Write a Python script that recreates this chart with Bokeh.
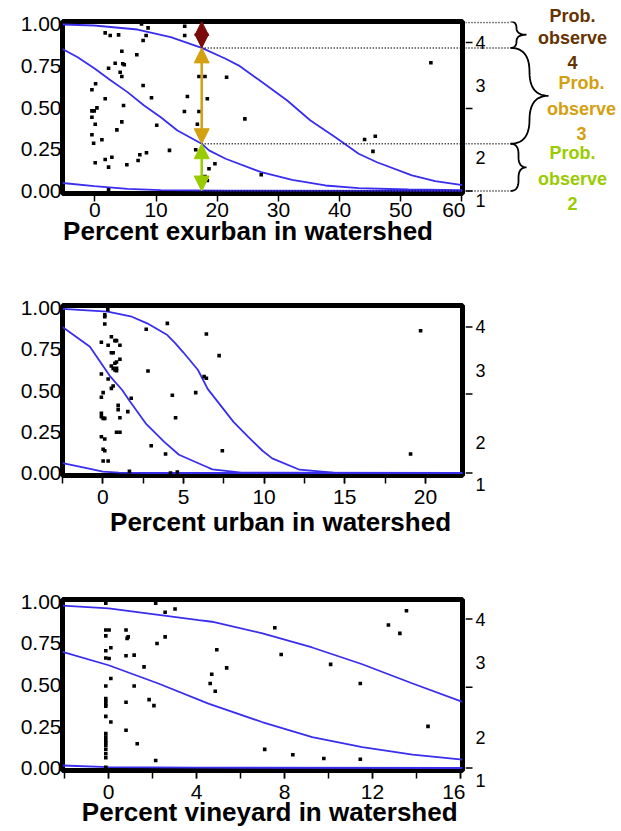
import numpy as np
from bokeh.plotting import figure
from bokeh.layouts import column, row
from bokeh.models import (Range1d, LinearAxis, FixedTicker, SingleIntervalTicker,
                          NumeralTickFormatter, Arrow, NormalHead)
from bokeh.core.properties import value
from bokeh.embed import file_html
from bokeh.resources import INLINE

FONT = "Liberation Sans"
CURVE = "#3A2EEE"
MAROON = "#7B0A0A"
GOLD = "#D4A010"
GREEN = "#99CC00"
BROWN = "#663300"

Y_LO, Y_HI = -0.015, 1.015
left_ticks = [0.0, 0.25, 0.5, 0.75, 1.0]
right_labels = ["4", "3", "2"]
NB = "\u00a0"

# ---------------- Panel 1: percent exurban ----------------
ex_x = [7.62, 8.69, 14.68, 1.68, 2.50, 3.87, 8.37, 7.88, 14.68, 4.40, 6.85, 3.31, 4.55, 4.80,
        2.23, 4.13, 4.40, 17.01, 17.99, 21.53, 0.11, 7.88, -0.49, 9.25, 15.12, 1.68, 18.38,
        4.68, 0.33, -0.49, -0.11, -0.49, 14.63, 17.01, 0.05, 4.40, 10.11, 16.75, 3.59, -0.49,
        1.14, -0.21, 12.19, 16.48, 8.43, 7.34, 2.77, 1.68, 7.06, 0.05, 19.62, 5.22, 2.23,
        18.65, 17.99, 18.38, 2.23, 24.52, 27.19, 44.09, 45.84, 45.46, 54.93]
ex_y = [1.00, 0.977, 0.987, 0.947, 0.931, 0.935, 0.931, 0.901, 0.931, 0.837, 0.816, 0.765,
        0.762, 0.756, 0.735, 0.711, 0.686, 0.686, 0.686, 0.681, 0.642, 0.632, 0.606, 0.558,
        0.566, 0.552, 0.552, 0.512, 0.498, 0.480, 0.480, 0.442, 0.476, 0.476, 0.400, 0.414,
        0.394, 0.400, 0.366, 0.337, 0.307, 0.286, 0.243, 0.247, 0.229, 0.217, 0.202, 0.189,
        0.183, 0.169, 0.163, 0.157, 0.143, 0.133, 0.087, 0.063, 0.007, 0.432, 0.097, 0.308,
        0.328, 0.237, 0.768]
ex_hi_x = [-5.3, -0.11, 6.97, 12.40, 17.46, 21.37, 23.54, 27.36, 31.44, 35.24, 39.31, 43.12,
           46.12, 51.83, 55.63, 60.1]
ex_hi_y = [0.997, 0.991, 0.967, 0.921, 0.857, 0.792, 0.751, 0.651, 0.542, 0.422, 0.322, 0.223,
           0.172, 0.093, 0.059, 0.035]
ex_mid_x = [-5.3, -2.82, -0.11, 2.61, 5.33, 8.04, 10.77, 13.49, 17.46, 18.65, 21.37, 27.19,
            32.25, 37.68, 43.12, 51.27, 60.1]
ex_mid_y = [0.85, 0.801, 0.735, 0.662, 0.592, 0.512, 0.442, 0.362, 0.283, 0.243, 0.193, 0.113,
            0.067, 0.033, 0.017, 0.009, 0.005]
ex_lo_x = [-5.3, -0.11, 5.33, 10.77, 21.37, 60.1]
ex_lo_y = [0.048, 0.029, 0.013, 0.005, 0.002, 0.0005]
ex_arrow_x = 17.46
ex_right_labels = [0.889, 0.632, 0.201]
ex_right_ticks = [0.889, 0.494, 0.0]
ex_one_y = -0.057
prob_head = "Prob."
prob_texts = ["observe\n4", "Prob.\nobserve\n3", "Prob.\nobserve\n2"]
prob_text_y = [0.841, 0.492, 0.073]

# ---------------- Panel 2: percent urban ----------------
ur_x = [0.31, 0.12, 0.12, 0.12, 4.0, 2.69, 6.42, -0.09, 0.53, 0.75, 0.85, 0.33, 1.06, 0.53,
        0.64, 1.06, 0.85, 0.75, 0.53, 0.64, 0.85, 0.75, 0.85, -0.09, 2.80, 0.33, 6.28, 6.42,
        0.64, 0.53, 0.02, -0.09, 1.76, 5.76, 4.31, 0.95, 1.55, 0.95, -0.09, -0.09, 0.02, 0.12,
        1.06, 4.51, 0.85, 1.06, -0.09, 0.12, 3.0, 0.02, 0.12, 3.89, 0.02, 0.33, 1.65, 4.2,
        4.62, 7.21, 7.41, 19.7, 19.08]
ur_y = [0.99, 0.958, 0.947, 0.903, 0.907, 0.871, 0.842, 0.792, 0.826, 0.802, 0.802, 0.774,
        0.774, 0.729, 0.729, 0.689, 0.673, 0.665, 0.648, 0.634, 0.634, 0.624, 0.62, 0.60,
        0.618, 0.570, 0.584, 0.574, 0.527, 0.513, 0.487, 0.459, 0.453, 0.487, 0.471, 0.410,
        0.372, 0.384, 0.362, 0.341, 0.331, 0.331, 0.335, 0.335, 0.247, 0.247, 0.22, 0.206,
        0.165, 0.144, 0.135, 0.115, 0.073, 0.073, 0.010, 0.0, 0.006, 0.711, 0.135, 0.862,
        0.115]
ur_hi_x = [-2.5, 0.3, 1.8, 2.75, 4.0, 4.5, 5.0, 5.9, 6.5, 8.1, 9.0, 9.9, 10.5, 12.2, 14.3, 22.3]
ur_hi_y = [0.995, 0.978, 0.947, 0.907, 0.836, 0.786, 0.73, 0.624, 0.51, 0.31, 0.22, 0.135,
           0.089, 0.02, 0.002, 0.0]
ur_mid_x = [-2.5, -0.8, 0.47, 1.2, 1.62, 2.7, 3.79, 4.72, 6.42, 6.79, 8.6, 22.3]
ur_mid_y = [0.885, 0.765, 0.584, 0.503, 0.442, 0.296, 0.19, 0.111, 0.038, 0.022, 0.003, 0.0]
ur_lo_x = [-2.5, -1.0, 0.0, 1.0, 3.0, 22.3]
ur_lo_y = [0.06, 0.03, 0.008, 0.002, 0.0, 0.0]
ur_right_labels = [0.885, 0.624, 0.182]
ur_right_ticks = [0.885, 0.479, 0.0]
ur_one_y = -0.0725

# ---------------- Panel 3: percent vineyard ----------------
vi_x = [-0.13, 2.14, 2.57, 3.02, -0.13, 0.02, 0.79, -0.13, 0.89, 0.84, 2.57, 2.20, 0.10,
        -0.13, 0.79, 1.16, -0.13, 0.02, 1.61, 0.10, -0.13, 1.16, 1.84, 2.06, -0.13, -0.13,
        -0.13, -0.13, 0.79, -0.13, 0.10, 0.79, -0.13, -0.13, -0.13, -0.13, -0.13, -0.13,
        -0.13, -0.13, 1.30, 2.14, -0.13, 7.56, 7.85, 4.92, 5.37, 4.69, 4.62, 4.85, 10.1,
        11.45, 12.73, 13.25, 13.55, 14.53, 7.1, 8.38, 9.79, 11.45]
vi_y = [0.992, 0.992, 0.938, 0.958, 0.831, 0.831, 0.831, 0.796, 0.790, 0.781, 0.790, 0.750,
        0.724, 0.706, 0.676, 0.680, 0.663, 0.66, 0.609, 0.539, 0.494, 0.494, 0.412, 0.376,
        0.418, 0.402, 0.385, 0.372, 0.396, 0.311, 0.277, 0.227, 0.207, 0.186, 0.166, 0.152,
        0.136, 0.112, 0.086, 0.062, 0.146, 0.045, 0.005, 0.845, 0.684, 0.712, 0.603, 0.565,
        0.509, 0.462, 0.624, 0.509, 0.861, 0.811, 0.947, 0.251, 0.112, 0.080, 0.057, 0.053]
vi_hi_x = [-2.1, 0.0, 4.1, 4.7, 7.0, 9.26, 11.54, 13.83, 16.1]
vi_hi_y = [0.978, 0.962, 0.891, 0.881, 0.811, 0.726, 0.625, 0.509, 0.398]
vi_mid_x = [-2.1, 0.0, 2.26, 4.54, 6.98, 9.26, 11.54, 13.83, 16.1]
vi_mid_y = [0.70, 0.619, 0.509, 0.388, 0.277, 0.186, 0.126, 0.080, 0.051]
vi_lo_x = [-2.1, 0.0, 4.0, 16.1]
vi_lo_y = [0.015, 0.005, 0.002, 0.0]
vi_right_labels = [0.897, 0.637, 0.184]
vi_right_ticks = [0.897, 0.486, 0.0]
vi_one_y = -0.078

BL, FW = 62, 400          # left border and frame width shared by the three panels
SW = 152                  # width of the right-hand strip


def panel(xr, fh, bt, bb, interval, n_minor, minor_out, xlabel, lab_standoff, title_standoff):
    p = figure(x_range=Range1d(*xr), y_range=Range1d(Y_LO, Y_HI),
               frame_width=FW, frame_height=fh,
               min_border_left=BL, min_border_right=3,
               min_border_top=bt, min_border_bottom=bb,
               output_backend="svg", toolbar_location=None,
               background_fill_color="white", border_fill_color="white")
    p.outline_line_color = "black"
    p.outline_line_width = 5
    p.outline_line_alpha = 1.0
    p.grid.grid_line_color = None

    xa = p.xaxis[0]
    xa.ticker = SingleIntervalTicker(interval=interval, num_minor_ticks=n_minor)
    xa.axis_line_color = None
    xa.major_tick_in = 0
    xa.major_tick_out = 8
    xa.minor_tick_in = 0
    xa.minor_tick_out = minor_out
    xa.major_tick_line_width = 1.5
    xa.minor_tick_line_width = 1.5
    xa.major_label_text_font = FONT
    xa.major_label_text_font_size = "21px"
    xa.major_label_text_color = "black"
    xa.major_label_standoff = lab_standoff
    xa.axis_label = xlabel
    xa.axis_label_text_font = FONT
    xa.axis_label_text_font_size = "26px"
    xa.axis_label_text_font_style = "bold"
    xa.axis_label_text_color = "black"
    xa.axis_label_standoff = title_standoff

    ya = p.yaxis[0]
    ya.ticker = FixedTicker(ticks=left_ticks)
    ya.formatter = NumeralTickFormatter(format="0.00")
    ya.axis_line_color = None
    ya.major_tick_in = 0
    ya.major_tick_out = 0
    ya.minor_tick_in = 0
    ya.minor_tick_out = 0
    ya.major_label_text_font = FONT
    ya.major_label_text_font_size = "21px"
    ya.major_label_text_color = "black"
    ya.major_label_standoff = 1
    return p


def side(bt, fh, bb, r_labels, r_ticks, one_y):
    """Right-hand strip: its frame top lines up with the panel's frame top,
    and it uses the panel's vertical scale (extended downward)."""
    sy = fh / (Y_HI - Y_LO)
    s = figure(x_range=Range1d(0, SW), y_range=Range1d(Y_HI - (fh + bb) / sy, Y_HI),
               frame_width=SW, frame_height=fh + bb,
               min_border_left=0, min_border_right=0, min_border_top=bt, min_border_bottom=0,
               x_axis_type=None, y_axis_type=None,
               output_backend="svg", toolbar_location=None,
               background_fill_color="white", border_fill_color="white")
    s.outline_line_color = None
    s.segment(x0=[0] * len(r_ticks), y0=r_ticks, x1=[7] * len(r_ticks), y1=r_ticks,
              line_color="black", line_width=1.5)
    s.text(x=[10] * len(r_labels), y=r_labels, text=right_labels,
           text_font=value(FONT), text_font_size="18px", text_color="black",
           text_align="left", text_baseline="middle")
    s.text(x=[15], y=[one_y], text=["1"], text_font=value(FONT), text_font_size="18px",
           text_color="black", text_align="center", text_baseline="middle")
    return s, sy


def add_curves(p, curves, xs, ys):
    for cx, cy in curves:
        p.line(cx, cy, line_color=CURVE, line_width=1.8)
    p.scatter(xs, ys, marker="square", size=3.6, fill_color="black", line_color=None)


def brace(y_lo, y_hi, x_end, spine, tip, sy):
    H = (y_hi - y_lo) * sy
    Ym = H / 2.0
    r = min(spine * 1.3, H / 4.0)
    t = np.linspace(0, 1, 14)

    def qb(a, b, c):
        return ((1 - t) ** 2 * a[0] + 2 * (1 - t) * t * b[0] + t ** 2 * c[0],
                (1 - t) ** 2 * a[1] + 2 * (1 - t) * t * b[1] + t ** 2 * c[1])
    segs = [qb((0, 0), (spine, 0), (spine, r)),
            qb((spine, Ym - r), (spine, Ym), (tip, Ym)),
            qb((tip, Ym), (spine, Ym), (spine, Ym + r)),
            qb((spine, H - r), (spine, H), (0, H))]
    X = np.concatenate([sg[0] for sg in segs])
    Y = np.concatenate([sg[1] for sg in segs])
    return list(x_end + X), list(y_lo + Y / sy)


# ---------- row 1 ----------
T1, H1, B1 = 21, 172, 75
p1 = panel((-5.3, 60.1), H1, T1, B1, 10, 2, 0,
           "Percent exurban in watershed" + NB * 4, 1, -4)
add_curves(p1, [(ex_hi_x, ex_hi_y), (ex_mid_x, ex_mid_y), (ex_lo_x, ex_lo_y)], ex_x, ex_y)

b_hi = float(np.interp(ex_arrow_x, ex_hi_x, ex_hi_y))
b_mid = float(np.interp(ex_arrow_x, ex_mid_x, ex_mid_y))
b_lo = 0.0
bounds = [b_hi, b_mid, b_lo]

p1.segment(x0=[ex_arrow_x] * 3, y0=bounds, x1=[60.1] * 3, y1=bounds,
           line_color="black", line_width=1.5, line_dash="1 2")

p1.add_layout(Arrow(start=NormalHead(size=14, fill_color=MAROON, line_color=MAROON),
                    end=NormalHead(size=14, fill_color=MAROON, line_color=MAROON),
                    x_start=ex_arrow_x, y_start=b_hi, x_end=ex_arrow_x, y_end=Y_HI,
                    line_color=MAROON, line_alpha=0.0))
p1.add_layout(Arrow(start=NormalHead(size=15, fill_color=GOLD, line_color=GOLD),
                    end=NormalHead(size=15, fill_color=GOLD, line_color=GOLD),
                    x_start=ex_arrow_x, y_start=b_mid, x_end=ex_arrow_x, y_end=b_hi,
                    line_color=GOLD, line_width=2.5))
p1.add_layout(Arrow(start=NormalHead(size=15, fill_color=GREEN, line_color=GREEN),
                    end=NormalHead(size=15, fill_color=GREEN, line_color=GREEN),
                    x_start=ex_arrow_x, y_start=b_lo, x_end=ex_arrow_x, y_end=b_mid,
                    line_color=GREEN, line_width=2.5))

s1, sy1 = side(T1, H1, B1, ex_right_labels, ex_right_ticks, ex_one_y)
DOT_END = 45
all_bounds = [Y_HI - 1.0 / sy1] + bounds
s1.segment(x0=[0] * 4, y0=all_bounds, x1=[DOT_END] * 4, y1=all_bounds,
           line_color="black", line_width=1.5, line_dash="1 2")
for ylo, yhi, spine, tip in [(b_hi, Y_HI, 6, 16), (b_mid, b_hi, 19, 38), (b_lo, b_mid, 8, 16)]:
    bx, by = brace(ylo, yhi, DOT_END, spine, tip, sy1)
    s1.line(bx, by, line_color="black", line_width=1.8)
s1.text(x=[107, 116, 107], y=prob_text_y, text=prob_texts,
        text_font=value(FONT), text_font_size="18px", text_font_style="bold",
        text_color=[BROWN, GOLD, GREEN], text_align="center", text_baseline="middle",
        text_line_height=1.28)
# first line of the top annotation sits above the frame: show it as an "above" axis label
top_ax = LinearAxis(ticker=FixedTicker(ticks=[107]), major_label_overrides={107: prob_head})
top_ax.axis_line_color = None
top_ax.major_tick_line_color = None
top_ax.minor_tick_line_color = None
top_ax.major_tick_out = 0
top_ax.major_tick_in = 0
top_ax.major_label_standoff = -4
top_ax.major_label_text_font = FONT
top_ax.major_label_text_font_size = "18px"
top_ax.major_label_text_font_style = "bold"
top_ax.major_label_text_color = BROWN
s1.add_layout(top_ax, "above")

# ---------- row 2 ----------
T2, H2, B2 = 37, 170, 80
p2 = panel((-2.5, 22.3), H2, T2, B2, 5, 2, 8,
           NB * 5 + "Percent urban in watershed", 6, 0)
add_curves(p2, [(ur_hi_x, ur_hi_y), (ur_mid_x, ur_mid_y), (ur_lo_x, ur_lo_y)], ur_x, ur_y)
s2, _ = side(T2, H2, B2, ur_right_labels, ur_right_ticks, ur_one_y)

# ---------- row 3 ----------
T3, H3, B3 = 44, 171, 52
p3 = panel((-2.1, 16.1), H3, T3, B3, 4, 2, 8,
           NB * 2 + "Percent vineyard in watershed", 6, -5)
add_curves(p3, [(vi_hi_x, vi_hi_y), (vi_mid_x, vi_mid_y), (vi_lo_x, vi_lo_y)], vi_x, vi_y)
s3, _ = side(T3, H3, B3, vi_right_labels, vi_right_ticks, vi_one_y)

layout = column(row(p1, s1), row(p2, s2), row(p3, s3))
open("out.html", "w").write(file_html(layout, INLINE))
